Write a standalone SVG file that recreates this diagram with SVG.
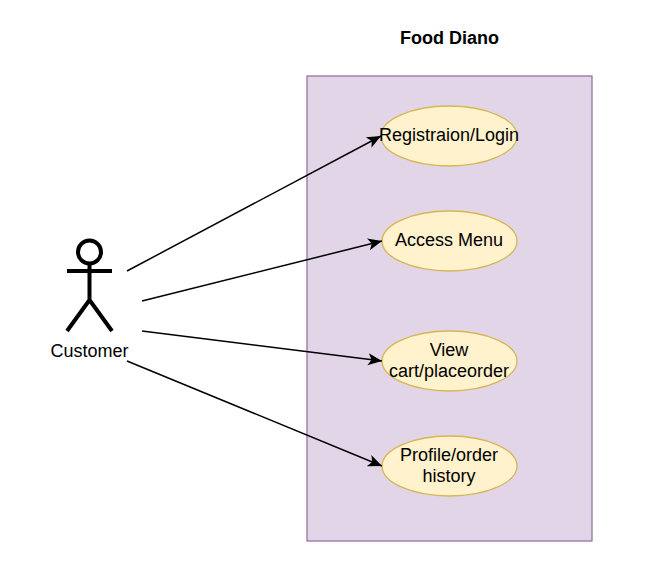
<svg xmlns="http://www.w3.org/2000/svg" width="667" height="577" viewBox="0 0 667 577">
<style>
text{font-family:"Liberation Sans",Arial,sans-serif;font-size:18px;fill:#000;text-anchor:middle}
.u{fill:#fff2cc;stroke:#d6b656;stroke-width:1.3}
.c{stroke:#000;stroke-width:1.5;fill:none;marker-end:url(#a)}
.s{stroke:#000;stroke-width:4;fill:none}
</style>
<defs><marker id="a" markerUnits="userSpaceOnUse" markerWidth="16" markerHeight="14" refX="14" refY="7" orient="auto"><path d="M0 1L14 7L0 13L3.500 7Z" fill="#000"/></marker></defs>
<rect width="667" height="577" fill="#fff"/>
<g id="system"><rect x="307" y="76" width="285" height="465" fill="#e1d5e7" stroke="#9673a6" stroke-width="1.3"/></g>
<g id="title"><text x="449.500" y="43.500" style="font-weight:bold">Food Diano</text></g>
<g id="actor"><circle cx="89.500" cy="252" r="11.500" class="s"/><path class="s" d="M89.500 263.500V300M67 271H112M89.500 300L67 331M89.500 300L112 331"/><text x="89.500" y="356.500">Customer</text></g>
<g id="uc1"><ellipse class="u" cx="449" cy="136" rx="68" ry="30"/><text x="449" y="140.500">Registraion/Login</text></g>
<g id="uc2"><ellipse class="u" cx="449.500" cy="241" rx="67.500" ry="30"/><text x="449" y="245.500">Access Menu</text></g>
<g id="uc3"><ellipse class="u" cx="449.500" cy="361" rx="67.500" ry="30"/><text x="449" y="355.500">View</text><text x="449" y="376.500">cart/placeorder</text></g>
<g id="uc4"><ellipse class="u" cx="449.500" cy="466" rx="67.500" ry="30"/><text x="449" y="460.500">Profile/order</text><text x="449" y="481.500">history</text></g>
<g id="connectors"><path class="c" d="M127 271L381 136"/><path class="c" d="M142 301L382 241"/><path class="c" d="M142 331L382 361"/><path class="c" d="M127 361L382 466"/></g>
</svg>
